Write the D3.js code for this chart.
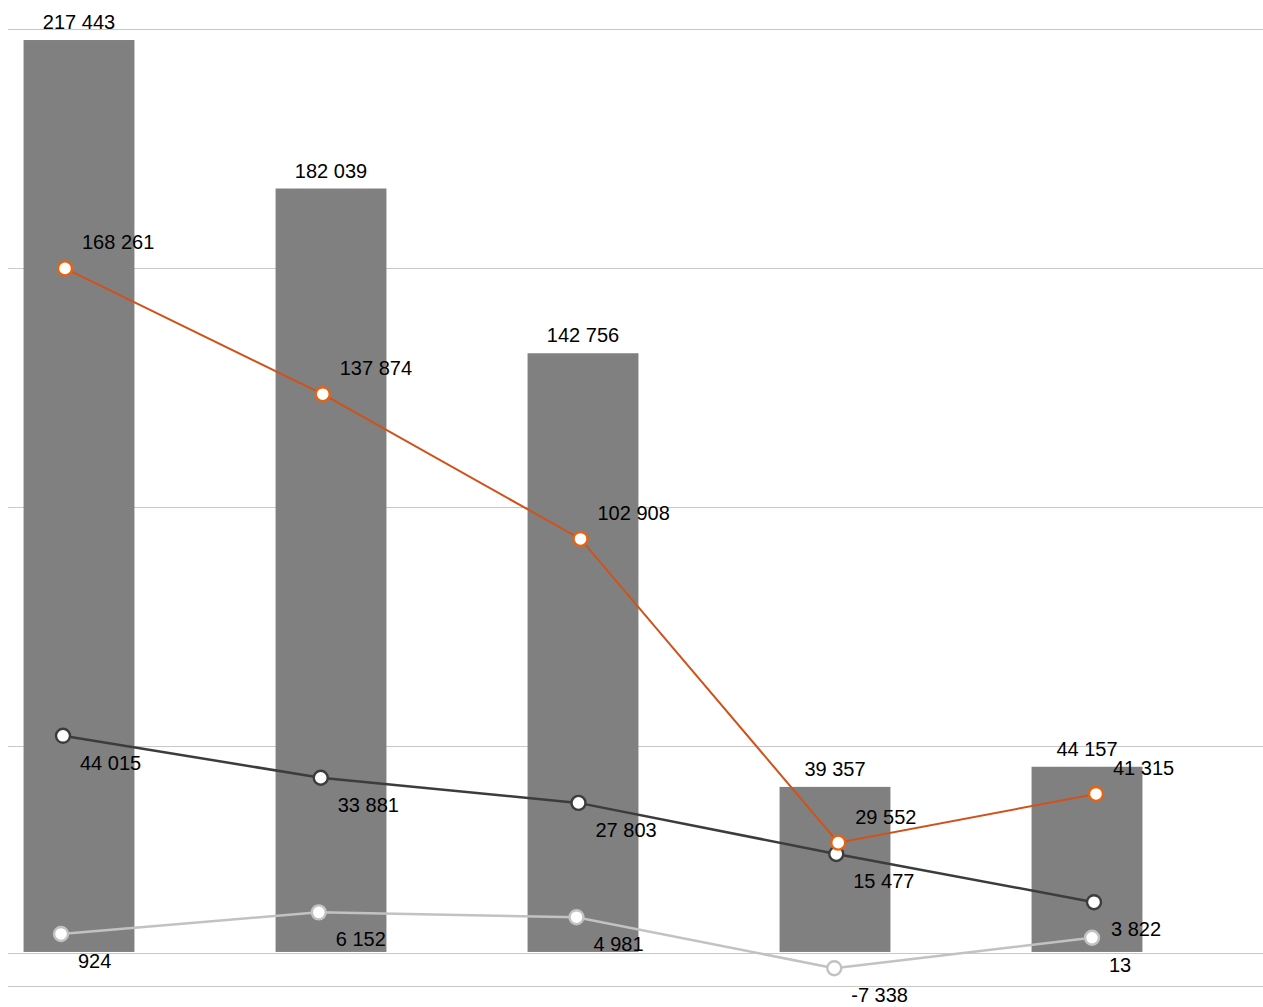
<!DOCTYPE html>
<html>
<head>
    <meta charset="utf-8">
    <script src="https://cdn.jsdelivr.net/npm/d3@7"></script>
    <style>
        body { margin: 0; background: #fff; }
        text {
            font-family: "Helvetica Neue", Helvetica, Arial, "Liberation Sans", sans-serif;
            font-size: 20px;
            fill: #000;
        }
        .grid line { stroke: #c8c8c8; stroke-width: 1px; }
        rect.bar { fill: #808080; }
        path.serie { fill: none; }
        circle.pt { fill: #fff; }
    </style>
</head>
<body>
<script>
    // data
    let categories = ["A", "B", "C", "D", "E"];
    let barValues = [217443, 182039, 142756, 39357, 44157];
    let orangeValues = [168261, 137874, 102908, 29552, 41315];
    let darkValues = [44015, 33881, 27803, 15477, 3822];
    let grayValues = [924, 6152, 4981, -7338, 13];
    let barDomain = [-8000, 220000];
    let gridStep = 57000;

    let width = 1263, height = 1007;

    let svg = d3.select("body").append("svg")
        .attr("width", width)
        .attr("height", height);

    let x_band = d3.scaleBand()
        .domain(categories)
        .range([-47, 1213])
        .paddingInner(0.56)
        .paddingOuter(0.28);

    let y_bar = d3.scaleLinear()
        .domain(barDomain)
        .range([985.5, 29.3]);

    // gridlines
    let gridTicks = d3.range(barDomain[0], barDomain[1] + 1, gridStep);
    let grid = svg.append("g").attr("class", "grid");
    grid.selectAll("line.g")
        .data(gridTicks)
        .join("line")
            .attr("class", "g")
            .attr("x1", 8).attr("x2", width)
            .attr("y1", d => Math.round(y_bar(d)) + 0.5)
            .attr("y2", d => Math.round(y_bar(d)) + 0.5);

    // bars
    svg.selectAll("rect.bar")
        .data(barValues)
        .join("rect")
            .attr("class", "bar")
            .attr("x", (d, i) => x_band(categories[i]))
            .attr("width", x_band.bandwidth())
            .attr("y", d => y_bar(d))
            .attr("height", d => y_bar(0) - y_bar(d));

    // zero line
    svg.append("g").attr("class", "grid")
        .append("line")
        .attr("x1", 8).attr("x2", width)
        .attr("y1", Math.round(y_bar(0)) + 1.5)
        .attr("y2", Math.round(y_bar(0)) + 1.5);

    function fmt(v) {
        return d3.format(",")(v).replace(/,/g, " ").replace("−", "-");
    }

    // bar labels
    svg.selectAll("text.barlabel")
        .data(barValues)
        .join("text")
            .attr("class", "barlabel")
            .attr("x", (d, i) => x_band(categories[i]) + x_band.bandwidth() / 2)
            .attr("y", d => y_bar(d) - 11)
            .attr("text-anchor", "middle")
            .text(d => fmt(d));

    // line series, each with its own baseline
    let lineSlope = 0.00414;
    function lineScale(base) {
        return d3.scaleLinear().domain([0, 100000]).range([base, base - 100000 * lineSlope]);
    }
    function pointScale(shift) {
        return d3.scalePoint().domain(categories).range([63 + shift, 1094 + shift]);
    }

    let series = [
        { values: grayValues, x: pointScale(-2), y: lineScale(937.8), line: "#c2c2c2", dot: "#c2c2c2", lw: 2.5, above: false },
        { values: darkValues, x: pointScale(0), y: lineScale(918), line: "#3c3c3c", dot: "#3c3c3c", lw: 2.5, above: false },
        { values: orangeValues, x: pointScale(2), y: lineScale(965), line: "#d0521a", dot: "#e8620f", lw: 2, above: true }
    ];

    series.forEach(s => {
        let line = d3.line()
            .x((d, i) => s.x(categories[i]))
            .y(d => s.y(d));

        svg.append("path")
            .attr("class", "serie")
            .attr("d", line(s.values))
            .attr("stroke", s.line)
            .attr("stroke-width", s.lw);

        svg.append("g").selectAll("circle")
            .data(s.values)
            .join("circle")
                .attr("class", "pt")
                .attr("cx", (d, i) => s.x(categories[i]))
                .attr("cy", d => s.y(d))
                .attr("r", 7)
                .attr("stroke", s.dot)
                .attr("stroke-width", 2.4);
    });

    series.forEach(s => {
        svg.append("g").selectAll("text")
            .data(s.values)
            .join("text")
                .attr("x", (d, i) => s.x(categories[i]) + 17)
                .attr("y", d => s.y(d) + (s.above ? -19 : 34))
                .text(d => fmt(d));
    });
</script>
</body>
</html>
